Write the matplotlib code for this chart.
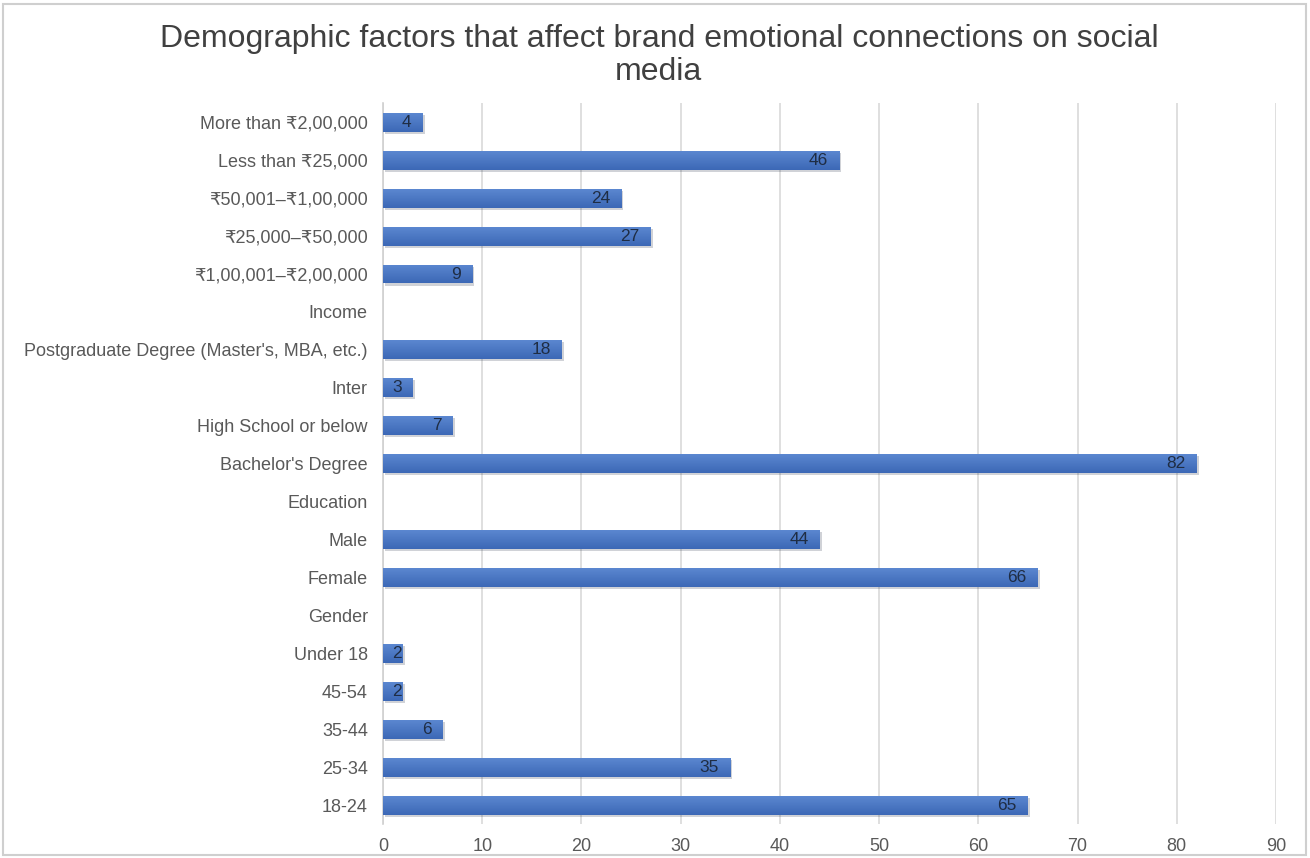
import numpy as np
import matplotlib.pyplot as plt
import matplotlib.patheffects as pe
from matplotlib.colors import LinearSegmentedColormap
from matplotlib.patches import Rectangle

plt.rcParams["font.family"] = ["Liberation Sans", "DejaVu Sans"]

# categories listed bottom to top, group headers have no value
categories = [
    "18-24", "25-34", "35-44", "45-54", "Under 18",
    "Gender", "Female", "Male",
    "Education", "Bachelor's Degree", "High School or below", "Inter",
    "Postgraduate Degree (Master's, MBA, etc.)",
    "Income", "₹1,00,001–₹2,00,000", "₹25,000–₹50,000", "₹50,001–₹1,00,000",
    "Less than ₹25,000", "More than ₹2,00,000",
]
values = [65, 35, 6, 2, 2, None, 66, 44, None, 82, 7, 3, 18, None, 9, 27, 24, 46, 4]

fig = plt.figure(figsize=(13.1, 8.58), dpi=100)
ax = fig.add_axes([0.2924, 0.0396, 0.974 - 0.2924, 0.840])

ypos = np.arange(len(categories))
widths = [v if v is not None else 0 for v in values]
bars = ax.barh(ypos, widths, height=0.5, color="#4472C4", zorder=2)

shade = LinearSegmentedColormap.from_list("shade", ["#5b87d0", "#3c68b6"])
grad = np.linspace(0, 1, 64).reshape(-1, 1)
for b, v in zip(bars, values):
    if v is None:
        b.set_visible(False)
        continue
    b.set_path_effects([pe.SimplePatchShadow(offset=(1.5, -1.5), alpha=0.2), pe.Normal()])
    x0, y0 = b.get_x(), b.get_y()
    im = ax.imshow(grad, cmap=shade, aspect="auto", origin="lower",
                   extent=(x0, x0 + b.get_width(), y0 + b.get_height(), y0),
                   zorder=3)
    im.set_clip_path(b)
    # the tiniest bars keep the number near their end without spilling past the axis
    off = -8 if v > 2 else -1
    ax.annotate(str(v), (v, b.get_y() + b.get_height() / 2), xytext=(off, 0),
                textcoords="offset points", ha="right", va="center",
                fontsize=12.5, color="#1f2d44", zorder=4)

ax.set_xlim(0, 90)
ax.set_ylim(-0.5, len(categories) - 0.5)
ax.set_xticks(range(0, 91, 10))
ax.set_yticks(ypos)
ax.set_yticklabels(categories)
ax.tick_params(axis="both", length=0, labelsize=13, labelcolor="#595959")
ax.tick_params(axis="x", pad=10)
ax.tick_params(axis="y", pad=11)
ax.grid(axis="x", color="#d9d9d9", linewidth=1.2, zorder=0)
ax.set_axisbelow(True)
for side in ["top", "right", "bottom"]:
    ax.spines[side].set_visible(False)
ax.spines["left"].set_color("#d0d0d0")
ax.spines["left"].set_linewidth(1.2)

fig.text(0.503, 0.935, "Demographic factors that affect brand emotional connections on social\nmedia",
         ha="center", va="center", fontsize=23, color="#404040", linespacing=1.12)

fig.patches.append(Rectangle((0.002, 0.003), 0.995, 0.992, transform=fig.transFigure,
                             fill=False, edgecolor="#cfcfcf", linewidth=1.5))

fig.savefig("out.png", dpi=100)
